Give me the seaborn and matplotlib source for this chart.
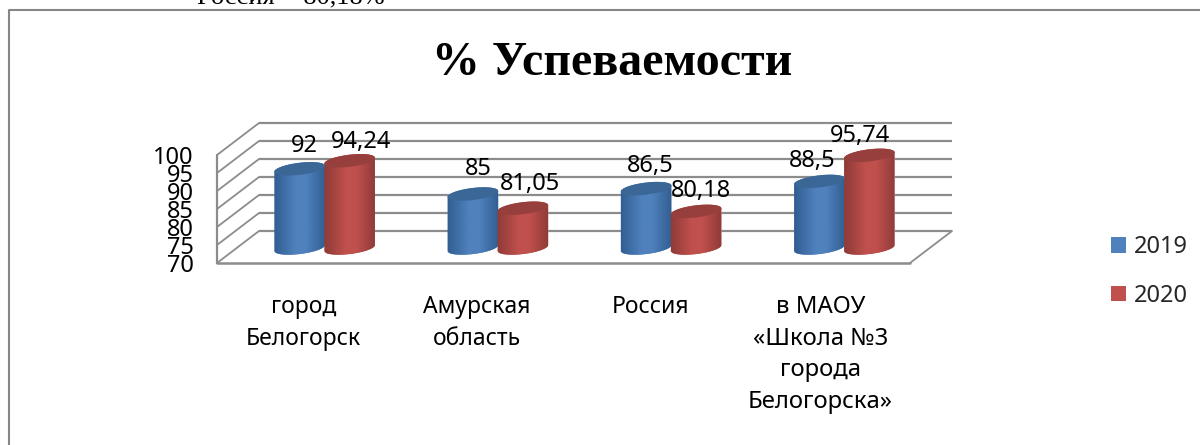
import numpy as np
import pandas as pd
import seaborn as sns
import matplotlib.pyplot as plt
from matplotlib.colors import LinearSegmentedColormap
from matplotlib.lines import Line2D
from matplotlib.patches import Patch, PathPatch, Polygon
from matplotlib.path import Path
from matplotlib.transforms import Affine2D, IdentityTransform

categories = ['город\nБелогорск', 'Амурская\nобласть', 'Россия', 'в МАОУ\n«Школа №3\nгорода\nБелогорска»']
values_2019 = [92, 85, 86.5, 88.5]
values_2020 = [94.24, 81.05, 80.18, 95.74]
years = ['2019', '2020']
y_ticks = [70, 75, 80, 85, 90, 95, 100]
title = '% Успеваемости'
cut_text = 'Россия  - 80,18%'

# сдвиг подписей относительно верха цилиндра, в пикселях
label_shift = {'2019': [(5, 23), (5, 25), (4, 23), (-7, 20)],
               '2020': [(11, 19), (7, 24), (5, 20), (-9, 19)]}
colors = {'2019': '#4f81bd', '2020': '#c0504d'}
dark = {'2019': '#305c8f', '2020': '#8c3a37'}
top_color = {'2019': '#3b6796', '2020': '#973f3c'}

W, H = 1200, 445
GRID = '#8c8c8c'


def px_axes(fig, left, top, right, bottom):
    return fig.add_axes([left / W, (H - bottom) / H, (right - left) / W, (bottom - top) / H])


def ellipse_points(cx, cy, t, a=25.5, b=6.0, angle=7):
    th = np.deg2rad(angle)
    x = cx + a * np.cos(t) * np.cos(th) - b * np.sin(t) * np.sin(th)
    y = cy + a * np.cos(t) * np.sin(th) + b * np.sin(t) * np.cos(th)
    return np.column_stack([x, y])


sns.set_theme(style='white')
plt.rcParams['font.family'] = ['Noto Sans', 'DejaVu Sans']

df = pd.DataFrame({
    'category': categories * 2,
    'year': [years[0]] * 4 + [years[1]] * 4,
    'value': values_2019 + values_2020,
})

fig = plt.figure(figsize=(W / 100, H / 100), dpi=100)
fig.patch.set_facecolor('white')

# рамка диаграммы
fig.add_artist(Line2D([9 / W, 9 / W, 1], [0, 1 - 10 / H, 1 - 10 / H], color='#868686', lw=1.5))
fig.text(197 / W, 1 - 3 / H, cut_text, family='Liberation Serif', fontsize=19, va='baseline', color='black')
fig.text(612 / W, 1 - 75 / H, title, family='Liberation Serif', fontweight='bold', fontsize=34.6,
         ha='center', va='baseline', color='black')

# передняя плоскость: оси, подписи, пол
ax_front = px_axes(fig, 217, 155, 910, 263)
ax_front.set_xlim(-0.5, 3.5)
ax_front.set_ylim(70, 100)
ax_front.set_xticks(range(len(categories)))
ax_front.set_xticklabels(categories, linespacing=1.42)
ax_front.set_yticks(y_ticks)
ax_front.tick_params(axis='x', length=0, pad=23, labelsize=16.5, labelcolor='black')
ax_front.tick_params(axis='y', length=0, pad=17, labelsize=17, labelcolor='black')
last = ax_front.get_xticklabels()[-1]
last.set_fontsize(17.2)
last.set_transform(last.get_transform() + Affine2D().translate(-3, 0))
for s in ['top', 'right', 'bottom', 'left']:
    ax_front.spines[s].set_visible(False)

# стенка и боковина
depth = Affine2D().translate(42, 32)
back = ax_front.transData + depth
ax_front.hlines(y_ticks, -0.5, 3.5, transform=back, color=GRID, lw=1.6, clip_on=False)
for v in y_ticks:
    p0 = ax_front.transData.transform((-0.5, v))
    ax_front.add_line(Line2D([p0[0], p0[0] + 42], [p0[1], p0[1] + 32], color=GRID, lw=1.3,
                             transform=IdentityTransform(), clip_on=False))
ax_front.plot([-0.5, -0.5], [70, 100], color=GRID, lw=1.6, clip_on=False)
ax_front.plot([-0.5, 3.5], [70, 70], color=GRID, lw=1.8, clip_on=False)
p1 = ax_front.transData.transform((3.5, 70))
ax_front.add_line(Line2D([p1[0], p1[0] + 42], [p1[1], p1[1] + 32], color=GRID, lw=1.3,
                         transform=IdentityTransform(), clip_on=False))

# плоскость столбцов
ax_bars = px_axes(fig, 238, 140, 931, 248)
ax_bars.patch.set_alpha(0)
sns.barplot(data=df, x='category', y='value', hue='year', order=categories, hue_order=years,
            palette=colors, width=0.577, gap=0, saturation=1, legend=False, ax=ax_bars)
ax_bars.set_xlim(-0.5, 3.5)
ax_bars.set_ylim(70, 100)
ax_bars.axis('off')

ramp = np.linspace(0, 1, 64)
for year, cont in zip(years, ax_bars.containers):
    cmap = LinearSegmentedColormap.from_list(
        year, [(0, dark[year]), (0.42, colors[year]), (0.62, colors[year]), (1, dark[year])])
    for i, bar in enumerate(cont):
        val = bar.get_height()
        x0, w = bar.get_x(), bar.get_width()
        (cx, yt) = ax_bars.transData.transform((x0 + w / 2, val))
        (_, yb) = ax_bars.transData.transform((x0 + w / 2, 70))

        lower = ellipse_points(cx, yb, np.linspace(np.pi, 2 * np.pi, 40))
        upper = ellipse_points(cx, yt, np.linspace(0, np.pi, 40))
        body = Path(np.vstack([lower, upper, lower[:1]]), closed=True)
        clip = PathPatch(body, transform=IdentityTransform())

        bar.set_clip_path(clip)
        bar.set_clip_box(fig.bbox)
        im = ax_bars.imshow(ramp[None, :], cmap=cmap, vmin=0, vmax=1, aspect='auto',
                            extent=(x0 - 0.01, x0 + w + 0.01, 66, val + 3), zorder=bar.get_zorder() + 0.1 + i)
        im.set_clip_path(clip)
        im.set_clip_box(fig.bbox)

        cap = Polygon(ellipse_points(cx, yt, np.linspace(0, 2 * np.pi, 80)), closed=True,
                      transform=IdentityTransform(), facecolor=top_color[year], edgecolor='none',
                      zorder=bar.get_zorder() + 0.5 + i, clip_on=False)
        ax_bars.add_patch(cap)

        dx, dy = label_shift[year][i]
        ax_bars.annotate(f'{val:g}'.replace('.', ','), (x0 + w / 2, val), xytext=(dx, dy),
                         textcoords='offset pixels', ha='center', va='center', fontsize=17,
                         color='black', zorder=20, annotation_clip=False)
ax_bars.set_xlim(-0.5, 3.5)
ax_bars.set_ylim(70, 100)

# легенда
fig.legend(handles=[Patch(facecolor=colors[y], edgecolor='none', label=y) for y in years],
           loc='upper left', bbox_to_anchor=(1111 / W, 1 - 235 / H), frameon=False, fontsize=17,
           handlelength=0.65, handleheight=0.65, handletextpad=0.3, labelspacing=1.05, borderpad=0, borderaxespad=0)

fig.savefig('out.png', dpi=100, facecolor='white')
